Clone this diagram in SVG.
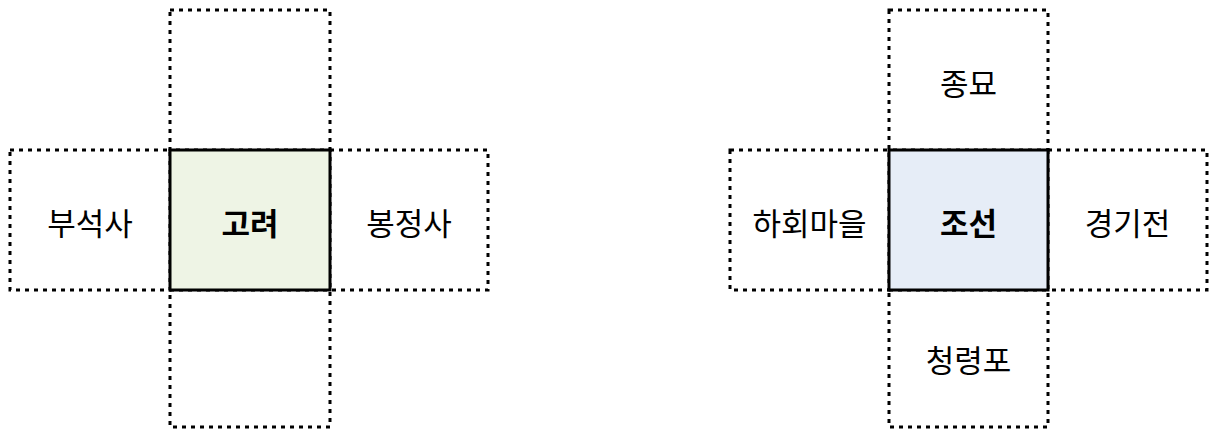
<svg xmlns="http://www.w3.org/2000/svg" width="1211" height="429" viewBox="0 0 1211 429">
<style>
.dash{fill:none;stroke:#000;stroke-width:3;stroke-dasharray:4 5}
.solid{stroke:#000;stroke-width:3}
.lbl{font-family:"Noto Sans CJK KR","Noto Sans",sans-serif;font-size:31px;fill:#000;text-anchor:middle;dominant-baseline:central}
.b{font-weight:bold}
</style>
<rect width="1211" height="429" fill="#fff"/>
<g id="goryeo-top"><rect class="dash" x="170" y="10" width="160" height="140"/></g>
<g id="goryeo-bottom"><rect class="dash" x="170" y="290" width="160" height="137"/></g>
<g id="goryeo-left"><rect class="dash" x="10" y="150" width="160" height="140"/><text class="lbl" x="90" y="221">부석사</text></g>
<g id="goryeo-right"><rect class="dash" x="330" y="150" width="158" height="140"/><text class="lbl" x="409" y="221">봉정사</text></g>
<g id="goryeo"><rect class="solid" x="170" y="150" width="160" height="140" fill="#eef4e5"/><text class="lbl b" x="250" y="221">고려</text></g>
<g id="joseon-top"><rect class="dash" x="889" y="10" width="159" height="140"/><text class="lbl" x="968.5" y="81">종묘</text></g>
<g id="joseon-bottom"><rect class="dash" x="889" y="290" width="159" height="137"/><text class="lbl" x="968.5" y="358">청령포</text></g>
<g id="joseon-left"><rect class="dash" x="730" y="150" width="159" height="140"/><text class="lbl" x="809.5" y="221">하회마을</text></g>
<g id="joseon-right"><rect class="dash" x="1048" y="150" width="159" height="140"/><text class="lbl" x="1127.5" y="221">경기전</text></g>
<g id="joseon"><rect class="solid" x="889" y="150" width="159" height="140" fill="#e6edf7"/><text class="lbl b" x="968.5" y="221">조선</text></g>
<g id="connectors"/>
</svg>
